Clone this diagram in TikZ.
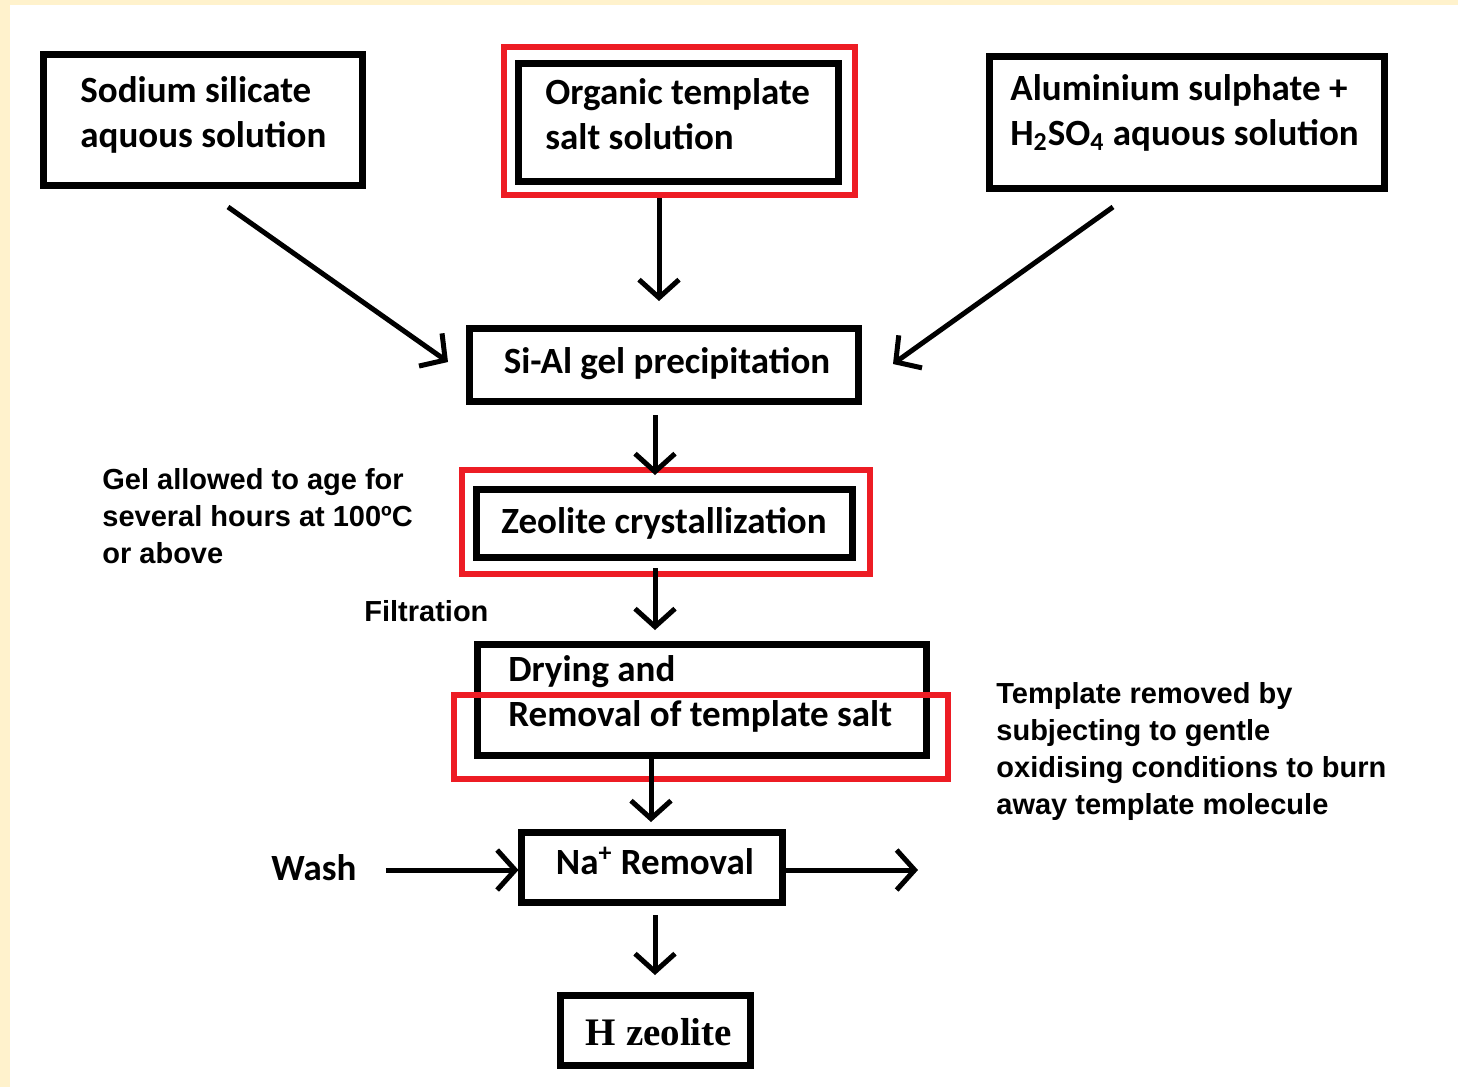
\documentclass[tikz,border=0pt]{standalone}
\usepackage{fontspec}
\setmainfont{Carlito}
\newfontfamily\arialfont{Liberation Sans}
\newfontfamily\timesfont{Liberation Serif}
\usetikzlibrary{arrows.meta,calc}
\definecolor{cream}{HTML}{FFF2CC}
\definecolor{pred}{HTML}{ED1C24}
\begin{document}
\begin{tikzpicture}[x=0.5pt,y=-0.5pt,
  box/.style={draw=black, line width=3.5pt, rectangle, inner sep=0pt, outer sep=0pt},
  redbox/.style={draw=pred, line width=3pt, rectangle, inner sep=0pt, outer sep=0pt},
  ctext/.style={font=\fontsize{18.5}{22.5}\selectfont\bfseries, inner sep=0pt, align=left},
  atext/.style={font=\arialfont\fontsize{14.5}{18.5}\selectfont\bfseries, inner sep=0pt, align=left},
  ttext/.style={font=\timesfont\fontsize{19.5}{22}\selectfont\bfseries, inner sep=0pt},
  arr/.style={line width=2.5pt, -{Straight Barb[length=9pt,width=20pt]}}
]
% background
\useasboundingbox (0,0) rectangle (1458,1087);
\fill[cream] (0,0) rectangle (1458,1087);
\fill[white] (10,5) rectangle (1458,1087);

% black boxes
\node[box, minimum width=159.5pt, minimum height=65.75pt] (sod) at (203,119.75) {};
\node[box, minimum width=160pt, minimum height=59pt] (org) at (678,122) {};
\node[box, minimum width=197.75pt, minimum height=65.75pt] (al) at (1186.75,122.25) {};
\node[box, minimum width=194.5pt, minimum height=36.5pt] (sial) at (664,365) {};
\node[box, minimum width=188pt, minimum height=34pt] (zeo) at (664.5,523.5) {};
\node[box, minimum width=224.5pt, minimum height=55.5pt] (dry) at (702,700) {};
\node[box, minimum width=130.5pt, minimum height=35pt] (na) at (652,867.5) {};
\node[box, minimum width=95pt, minimum height=35pt] (hz) at (655.5,1030.5) {};

% red highlight boxes
\node[redbox, minimum width=175.5pt, minimum height=74pt] (orgred) at (679.5,121) {};
\node[redbox, minimum width=204pt, minimum height=52pt] (zeored) at (666,522) {};
\node[redbox, minimum width=247pt, minimum height=42pt] (dryred) at (701,737) {};

% texts in boxes (base = baseline of the last line)
\node[ctext, anchor=base west] (sodT) at (80,147) {Sodium silicate\\aquous solution};
\node[ctext, anchor=base west] (orgT) at (545,149) {Organic template\\salt solution};
\node[ctext, anchor=base west] (alT) at (1010,145) {Aluminium sulphate +\\H\textsubscript{2}SO\textsubscript{4} aquous solution};
\node[ctext, anchor=base] (sialT) at (667,373) {Si-Al gel precipitation};
\node[ctext, anchor=base] (zeoT) at (664,533) {Zeolite crystallization};
\node[ctext, anchor=base west] (dryT) at (508,726) {Drying and\\Removal of template salt};
\node[ctext, anchor=base] (naT) at (655,874) {Na\textsuperscript{+} Removal};
\node[ttext, anchor=base] (hzT) at (659,1045) {H zeolite};

% side texts
\node[atext, anchor=base west] (gelT) at (102,563) {Gel allowed to age for\\several hours at 100ºC\\or above};
\node[atext, anchor=base west] (filT) at (364,621) {Filtration};
\node[atext, anchor=base west] (tplT) at (996,814) {Template removed by\\subjecting to gentle\\oxidising conditions to burn\\away template molecule};
\node[ctext, anchor=base west] (washT) at (271,880) {Wash};
\coordinate (nout) at (918,870);

% arrows
\draw[arr] ($(sod.south)+(25,21.5)$) -- ($(sial.west)+(-21.5,-3)$);
\draw[arr] ($(orgred.south)+(-20.5,3)$) -- ($(sial.north)+(-5,-27.5)$);
\draw[arr] ($(al.south)+(-73.75,19)$) -- ($(sial.east)+(34.5,-1)$);
\draw[arr] ($(sial.south)+(-9,13.5)$) -- ($(zeored.north)+(-11,5)$);
\draw[arr] ($(zeo.south)+(-9.5,10.5)$) -- ($(dry.north)+(-47,-14.5)$);
\draw[arr] ($(dry.south)+(-51,2.5)$) -- ($(na.north)+(-1,-10.5)$);
\draw[arr] ($(washT.base east)+(29,-10)$) -- ($(na.west)+(-3,2.5)$);
\draw[arr] ($(na.east)+(3.5,2.5)$) -- (nout);
\draw[arr] ($(na.south)+(3,12.5)$) -- ($(hz.north)+(-0.5,-20.5)$);
\end{tikzpicture}
\end{document}
